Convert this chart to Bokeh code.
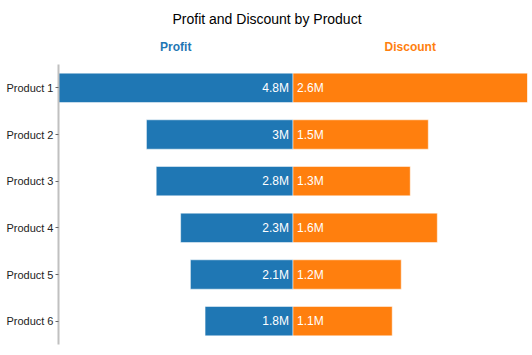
from bokeh.plotting import figure
from bokeh.models import Range1d, FactorRange, ColumnDataSource
from bokeh.layouts import column
from bokeh.core.properties import value
from bokeh.embed import file_html
from bokeh.resources import INLINE

products = ["Product 1", "Product 2", "Product 3", "Product 4", "Product 5", "Product 6"]
profit = [4.8, 3.0, 2.8, 2.3, 2.1, 1.8]      # millions
discount = [2.6, 1.5, 1.3, 1.6, 1.2, 1.1]    # millions

title_text = "Profit and Discount by Product"
series_names = ["Profit", "Discount"]
colors = ["#1f77b4", "#ff7f0e"]
FONT = "Liberation Sans"

P_MAX = max(profit)
D_MAX = max(discount)

def fmt(v):
    return f"{v:g}M"

src = ColumnDataSource(dict(
    product=products,
    profit=profit,
    discount=discount,
    zero=[0] * len(products),
    profit_lbl=[fmt(v) for v in profit],
    discount_lbl=[fmt(v) for v in discount],
))

x_discount = Range1d(-D_MAX, D_MAX)
x_profit = Range1d(P_MAX, -P_MAX)

def base_fig(height, **kw):
    f = figure(width=532, height=height, x_range=x_discount,
               output_backend="svg", toolbar_location=None,
               min_border_left=58, min_border_right=5, **kw)
    f.extra_x_ranges = {"profit": x_profit}
    f.xgrid.visible = False
    f.ygrid.visible = False
    f.outline_line_color = None
    f.background_fill_color = "white"
    f.border_fill_color = "white"
    return f

# ---- header: title + series names ----
h = base_fig(64, y_range=Range1d(64, 0), min_border_top=0, min_border_bottom=0)
h.xaxis.visible = False
h.yaxis.visible = False
h.text(x=[0], y=[18], text=[title_text], x_offset=-26,
       text_align="center", text_baseline="middle", text_color="black",
       text_font=value(FONT), text_font_size="14px")
h.text(x=[P_MAX / 2], y=[46], text=[series_names[0]], x_range_name="profit",
       text_align="center", text_baseline="middle", text_color=colors[0],
       text_font=value(FONT), text_font_size="12px", text_font_style="bold")
h.text(x=[D_MAX / 2], y=[46], text=[series_names[1]],
       text_align="center", text_baseline="middle", text_color=colors[1],
       text_font=value(FONT), text_font_size="12px", text_font_style="bold")

# ---- main butterfly chart ----
p = base_fig(291, y_range=FactorRange(*reversed(products), range_padding=0),
             min_border_top=0, min_border_bottom=11)
p.xaxis.visible = False

p.hbar(y="product", left="zero", right="profit", height=0.63, source=src,
       x_range_name="profit", fill_color=colors[0],
       line_color="white", line_alpha=0.5, line_width=1)
p.hbar(y="product", left="zero", right="discount", height=0.63, source=src,
       fill_color=colors[1], line_color="white", line_alpha=0.5, line_width=1)

p.text(x="zero", y="product", text="profit_lbl", source=src, x_range_name="profit",
       x_offset=-4, text_align="right", text_baseline="middle",
       text_color="white", text_font=value(FONT), text_font_size="12px")
p.text(x="zero", y="product", text="discount_lbl", source=src,
       x_offset=4, text_align="left", text_baseline="middle",
       text_color="white", text_font=value(FONT), text_font_size="12px")

ax = p.yaxis[0]
ax.axis_line_color = "#c0c0c0"
ax.axis_line_width = 2
ax.major_tick_line_color = "#666666"
ax.major_tick_in = 0
ax.major_tick_out = 3
ax.minor_tick_line_color = None
ax.major_label_text_font = FONT
ax.major_label_text_font_size = "11px"
ax.major_label_text_color = "#222222"
ax.major_label_standoff = 2

layout = column(h, p, spacing=0)
open("out.html", "w").write(file_html(layout, INLINE))
